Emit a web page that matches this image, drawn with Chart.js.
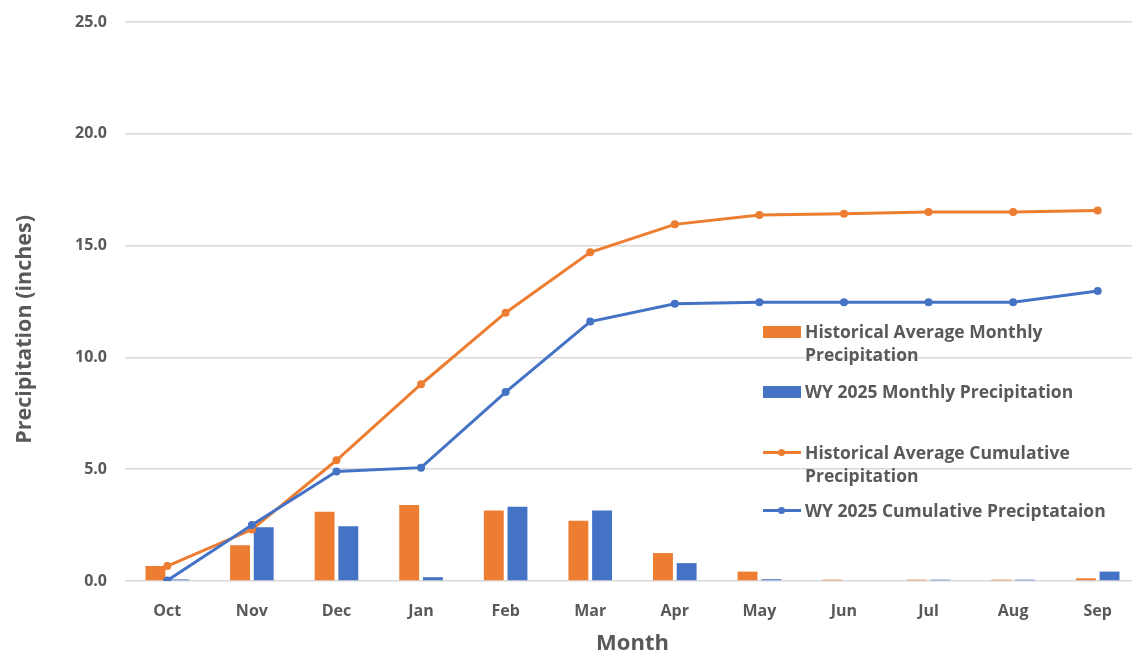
<!DOCTYPE html>
<html>
<head>
<meta charset="utf-8">
<script src="https://cdn.jsdelivr.net/npm/chart.js@4/dist/chart.umd.min.js"></script>
<style>
  html, body { margin: 0; padding: 0; background: #ffffff; overflow: hidden; }
  #wrap { position: relative; width: 1132px; height: 652px; overflow: hidden; }
  #legend {
    position: absolute; left: 763px; top: 320px;
    font-family: "Open Sans", sans-serif; font-weight: bold; font-size: 17.5px;
    color: #595959; line-height: 23px;
  }
  .legend-item { display: flex; align-items: flex-start; }
  .legend-swatch { width: 42px; height: 23px; position: relative; flex: none; }
  .legend-text { width: 340px; white-space: nowrap; }
</style>
</head>
<body>
<div id="wrap">
  <canvas id="chart" width="1144" height="655"></canvas>
  <div id="legend"></div>
</div>
<script>
const MONTHS = ["Oct", "Nov", "Dec", "Jan", "Feb", "Mar", "Apr", "May", "Jun", "Jul", "Aug", "Sep"];

const HIST_MONTHLY = [0.67, 1.6, 3.1, 3.4, 3.15, 2.7, 1.25, 0.42, 0.06, 0.06, 0.06, 0.12];
const WY2025_MONTHLY = [0.07, 2.4, 2.45, 0.17, 3.32, 3.15, 0.8, 0.08, 0, 0.06, 0.06, 0.42];

const HIST_CUMULATIVE = [0.67, 2.3, 5.4, 8.8, 12.0, 14.7, 15.95, 16.37, 16.43, 16.5, 16.5, 16.57];
const WY2025_CUMULATIVE = [0.02, 2.5, 4.9, 5.07, 8.45, 11.6, 12.4, 12.47, 12.47, 12.47, 12.47, 12.97];

const Y_TICKS = [0, 5, 10, 15, 20, 25];

const ORANGE = "#ED7D31";
const BLUE = "#4472C4";
const TEXT_GREY = "#595959";
const FONT = "Open Sans";

const LEGEND_LINES = [
  { kind: "bar", color: ORANGE, lines: ["Historical Average Monthly", "Precipitation"], gapAfter: 14 },
  { kind: "bar", color: BLUE, lines: ["WY 2025 Monthly Precipitation"], gapAfter: 38 },
  { kind: "line", color: ORANGE, lines: ["Historical Average Cumulative", "Precipitation"], gapAfter: 12 },
  { kind: "line", color: BLUE, lines: ["WY 2025 Cumulative Preciptataion"], gapAfter: 0 },
];

const ctx = document.getElementById("chart");

const chart = new Chart(ctx, {
  type: "bar",
  data: {
    labels: MONTHS,
    datasets: [
      {
        type: "line",
        label: "Historical Average Cumulative Precipitation",
        data: HIST_CUMULATIVE,
        borderColor: ORANGE,
        backgroundColor: ORANGE,
        borderWidth: 3,
        pointRadius: 4,
        pointBorderWidth: 0,
        tension: 0,
        order: 1
      },
      {
        type: "line",
        label: "WY 2025 Cumulative Preciptataion",
        data: WY2025_CUMULATIVE,
        borderColor: BLUE,
        backgroundColor: BLUE,
        borderWidth: 3,
        pointRadius: 4,
        pointBorderWidth: 0,
        tension: 0,
        order: 0
      },
      {
        label: "Historical Average Monthly Precipitation",
        data: HIST_MONTHLY,
        backgroundColor: ORANGE,
        categoryPercentage: 0.56,
        barPercentage: 0.84,
        order: 2
      },
      {
        label: "WY 2025 Monthly Precipitation",
        data: WY2025_MONTHLY,
        backgroundColor: BLUE,
        categoryPercentage: 0.56,
        barPercentage: 0.84,
        order: 3
      }
    ]
  },
  options: {
    responsive: false,
    animation: false,
    layout: { padding: { left: 0, right: 1, top: 22, bottom: 0 } },
    scales: {
      x: {
        grid: { display: false },
        border: { display: false },
        afterFit: (axis) => {
          axis.height = 74;
          axis.paddingLeft = 0;
          axis.paddingRight = 0;
        },
        ticks: {
          color: TEXT_GREY,
          font: { family: FONT, weight: "bold", size: 16 },
          padding: 13
        },
        title: {
          display: true,
          text: "Month",
          color: TEXT_GREY,
          font: { family: FONT, weight: "bold", size: 22, lineHeight: 1 },
          padding: 0
        }
      },
      y: {
        min: 0,
        max: 25,
        afterBuildTicks: (axis) => { axis.ticks = Y_TICKS.map((v) => ({ value: v })); },
        afterFit: (axis) => {
          axis.width = 125;
          axis.paddingTop = 0;
          axis.paddingBottom = 0;
        },
        grid: { color: "#d9d9d9", lineWidth: 1.5, drawTicks: false },
        border: { display: false },
        ticks: {
          color: TEXT_GREY,
          font: { family: FONT, weight: "bold", size: 16 },
          padding: 18,
          callback: (v) => Number(v).toFixed(1)
        },
        title: {
          display: true,
          // trailing spaces push the rotated title down a little, as in the original
          text: "Precipitation (inches)          ",
          color: TEXT_GREY,
          font: { family: FONT, weight: "bold", size: 21.5, lineHeight: 1 },
          padding: { top: 14, bottom: 0 }
        }
      }
    },
    plugins: {
      legend: { display: false },
      tooltip: { enabled: false }
    }
  }
});

function renderLegend() {
  const box = document.getElementById("legend");
  box.innerHTML = "";
  LEGEND_LINES.forEach((item) => {
    const row = document.createElement("div");
    row.className = "legend-item";
    row.style.marginBottom = item.gapAfter + "px";
    const swatch = item.kind === "bar"
      ? `<div style="position:absolute;left:0;top:6px;width:38px;height:12px;background:${item.color}"></div>`
      : `<div style="position:absolute;left:0;top:10px;width:38px;height:3px;background:${item.color}"></div>
         <div style="position:absolute;left:15px;top:8px;width:7px;height:7px;border-radius:50%;background:${item.color}"></div>`;
    row.innerHTML = `
      <div class="legend-swatch">${swatch}</div>
      <div class="legend-text">${item.lines.join("<br>")}</div>
    `;
    box.appendChild(row);
  });
}

renderLegend();
</script>
</body>
</html>
